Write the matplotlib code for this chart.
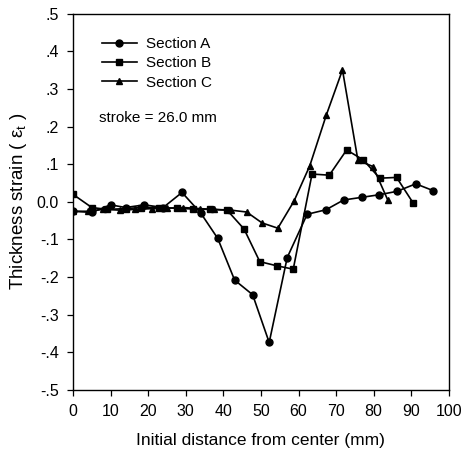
import matplotlib
matplotlib.use("Agg")
import matplotlib.pyplot as plt

plt.rcParams['font.family'] = ['Liberation Sans', 'DejaVu Sans']
plt.rcParams['mathtext.fontset'] = 'custom'
plt.rcParams['mathtext.rm'] = 'Liberation Sans'
plt.rcParams['mathtext.it'] = 'Liberation Sans'

xA = [0, 5, 10, 14, 19, 24, 29, 34, 38.5, 43, 47.8, 52.2, 57, 62.3, 67.3, 72, 76.8, 81.5, 86.2, 91.2, 95.8]
yA = [-0.025, -0.028, -0.008, -0.015, -0.008, -0.015, 0.025, -0.03, -0.097, -0.208, -0.247, -0.374,
      -0.148, -0.033, -0.021, 0.005, 0.012, 0.019, 0.028, 0.048, 0.030]

xB = [0, 5, 9, 14, 18, 23, 27.6, 32, 36.5, 41, 45.5, 49.7, 54.2, 58.6, 63.6, 68.2, 72.8, 77.2, 81.6, 86.1, 90.5]
yB = [0.02, -0.015, -0.02, -0.018, -0.015, -0.015, -0.017, -0.019, -0.02, -0.022, -0.072, -0.159,
      -0.17, -0.179, 0.074, 0.071, 0.138, 0.112, 0.063, 0.065, -0.003]

xC = [0, 4, 8, 12.5, 16.5, 21, 25, 29.3, 33.8, 37.6, 42, 46.2, 50.3, 54.5, 58.8, 63, 67.4, 71.7, 75.8, 79.8, 83.7]
yC = [-0.025, -0.025, -0.02, -0.022, -0.02, -0.018, -0.017, -0.015, -0.018, -0.02, -0.022, -0.027,
      -0.056, -0.07, 0.002, 0.096, 0.231, 0.351, 0.111, 0.094, 0.006]

xticks = list(range(0, 101, 10))
yticks = [0.5, 0.4, 0.3, 0.2, 0.1, 0.0, -0.1, -0.2, -0.3, -0.4, -0.5]
ylabels = ['.5', '.4', '.3', '.2', '.1', '0.0', '-.1', '-.2', '-.3', '-.4', '-.5']

fig = plt.figure(figsize=(4.70, 4.63), dpi=100)
ax = fig.add_axes([0.1553, 0.158, 0.7997, 0.812])

ax.plot(xA, yA, color='black', lw=1.2, marker='o', ms=5, label='Section A')
ax.plot(xB, yB, color='black', lw=1.2, marker='s', ms=4.5, label='Section B')
ax.plot(xC, yC, color='black', lw=1.2, marker='^', ms=5, label='Section C')

ax.set_xlim(0, 100)
ax.set_ylim(-0.5, 0.5)
ax.set_xticks(xticks)
ax.set_yticks(yticks)
ax.set_yticklabels(ylabels)
ax.tick_params(direction='out', length=4, width=0.9, labelsize=11.5, colors='black', pad=6)
for s in ax.spines.values():
    s.set_linewidth(1.0)

ax.set_xlabel('Initial distance from center (mm)', fontsize=12.5, labelpad=10)
ax.set_ylabel(r'Thickness strain ( $\mathrm{\varepsilon_t}$ )', fontsize=13.5, labelpad=6)

leg = ax.legend(loc='upper left', bbox_to_anchor=(0.04, 0.975), frameon=False, fontsize=11,
                handlelength=2.3, handletextpad=0.6, labelspacing=0.35)
ax.text(0.07, 0.723, 'stroke = 26.0 mm', transform=ax.transAxes, fontsize=11, va='center')

fig.savefig('out.png', dpi=100)
